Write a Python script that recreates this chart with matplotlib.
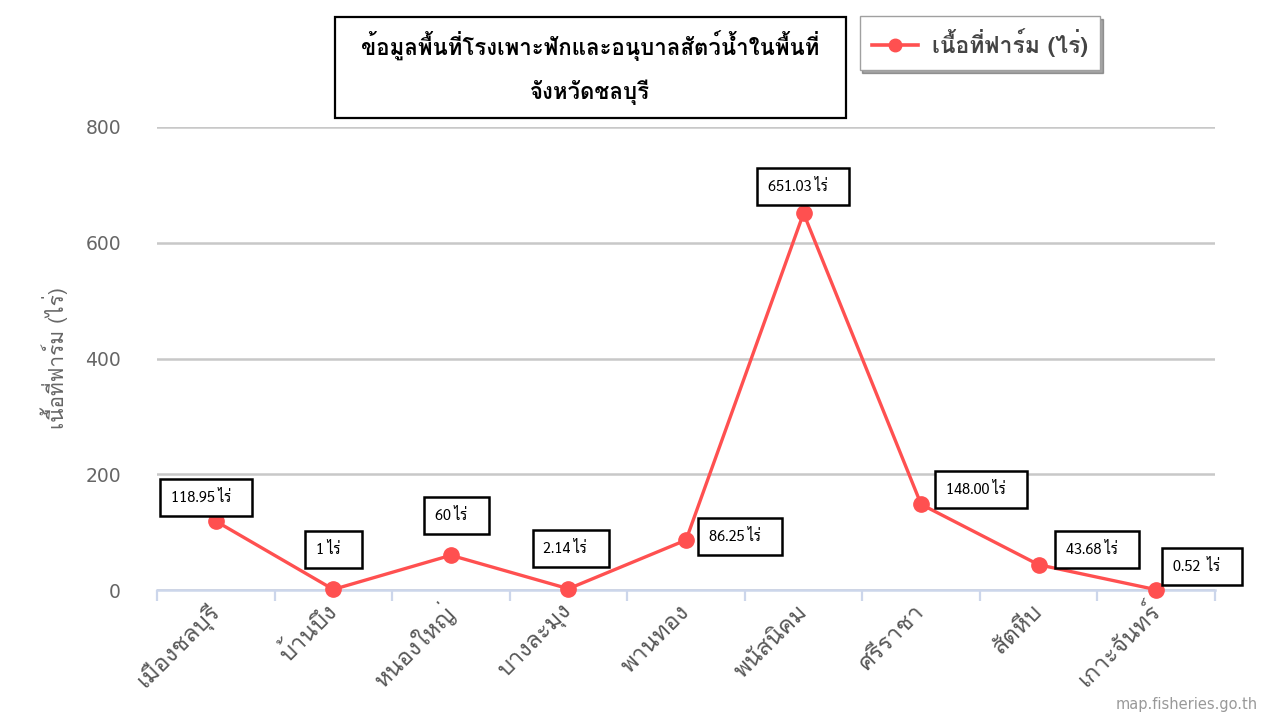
import matplotlib
matplotlib.use("Agg")
import matplotlib.pyplot as plt
from matplotlib.lines import Line2D
from matplotlib.patches import Rectangle
from matplotlib.ticker import FixedLocator

# data
districts = ["เมืองชลบุรี", "บ้านบึง", "หนองใหญ่", "บางละมุง", "พานทอง",
             "พนัสนิคม", "ศรีราชา", "สัตหีบ", "เกาะจันทร์"]
area_rai = [118.95, 1, 60, 2.14, 86.25, 651.03, 148.00, 43.68, 0.52]
value_labels = ["118.95", "1", "60", "2.14", "86.25", "651.03", "148.00", "43.68", "0.52 "]
y_ticks = [0, 200, 400, 600, 800]

title = "ข้อมูลพื้นที่โรงเพาะฟักและอนุบาลสัตว์น้ำในพื้นที่\nจังหวัดชลบุรี"
series_name = "เนื้อที่ฟาร์ม (ไร่)"
unit = "ไร่"
credit = "map.fisheries.go.th"

# label box offsets from each point (pixels: left edge, vertical centre)
label_offsets = [(-56, 24), (-28, 40), (-27, 40), (-36, 40), (12, 4),
                 (-47, 27), (14, 15), (16, 15), (6, 23)]

THAI = ["Loma", "Noto Sans Thai", "DejaVu Sans"]
RED = "#ff5050"
AXIS = "#ccd6eb"
GRID = "#c8c8c8"
TXT = "#666666"

plt.rcParams["font.family"] = THAI

fig = plt.figure(figsize=(12.8, 7.2), dpi=100)
ax = fig.add_axes([157 / 1280, 1 - 590 / 720, 1058 / 1280, 463 / 720])

x = list(range(len(districts)))
ax.plot(x, area_rai, color=RED, lw=2.4, marker="o", ms=11,
        markeredgecolor=RED, zorder=3, clip_on=False)

ax.set_xlim(-0.5, len(districts) - 0.5)
ax.set_ylim(0, 800)
ax.set_yticks(y_ticks)
ax.set_yticklabels([str(t) for t in y_ticks], family=["DejaVu Sans"],
                   fontsize=13.5, color=TXT)
ax.tick_params(axis="y", length=0, pad=26)
ax.grid(axis="y", color=GRID, lw=1.8)
ax.set_axisbelow(True)

ax.set_xticks(x)
ax.set_xticklabels(districts, rotation=45, ha="right", va="center",
                   rotation_mode="anchor", fontsize=17, color="#585858")
ax.xaxis.set_minor_locator(FixedLocator([i - 0.5 for i in range(len(districts) + 1)]))
ax.tick_params(axis="x", which="major", length=0, pad=13)
ax.tick_params(axis="x", which="minor", length=8, width=1.6, color=AXIS)

for side in ["top", "right", "left"]:
    ax.spines[side].set_visible(False)
ax.spines["bottom"].set_color(AXIS)
ax.spines["bottom"].set_linewidth(1.8)

ax.set_ylabel(series_name, fontsize=15, color=TXT, labelpad=12)

for xi, v, lab, (dx, dy) in zip(x, area_rai, value_labels, label_offsets):
    ax.annotate(f"{lab} {unit}   ", (xi, v), xytext=(dx + 11, dy),
                textcoords="offset pixels", ha="left", va="center",
                fontsize=10.5, family=["Sarabun", "DejaVu Sans"], color="black",
                bbox=dict(boxstyle="square,pad=0.75", fc="white", ec="black", lw=1.8),
                zorder=5, annotation_clip=False)

# title box
fig.patches.append(Rectangle((335 / 1280, 1 - 118 / 720), 511 / 1280, 101 / 720,
                             transform=fig.transFigure, fill=False,
                             ec="black", lw=1.6))
fig.text(590 / 1280, 1 - 68 / 720, title, ha="center", va="center",
         fontsize=16, fontweight="bold", color="black", linespacing=1.95)

handle = Line2D([], [], color=RED, lw=2.6, marker="o", ms=9, markeredgecolor=RED)
leg = fig.legend(handles=[handle], labels=[series_name], loc="center",
                 bbox_to_anchor=(980 / 1280, 1 - 43 / 720),
                 fancybox=False, shadow=True, edgecolor="#a0a0a0", fontsize=16.5,
                 handlelength=2.0, handletextpad=0.6, borderpad=0.55,
                 borderaxespad=0.8, framealpha=1)
for t in leg.get_texts():
    t.set_color("#444444")
    t.set_fontweight("bold")

fig.text(1258 / 1280, 1 - 705 / 720, credit, ha="right", va="center",
         fontsize=10.5, color="#999999", family=["DejaVu Sans"])

fig.savefig("out.png", dpi=100, facecolor="white")
